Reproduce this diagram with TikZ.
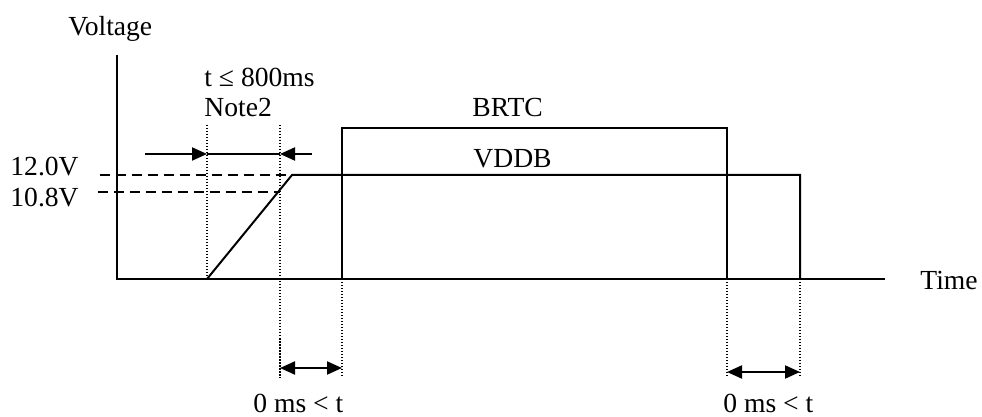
\documentclass[tikz,border=0pt]{standalone}
\usepackage{fontspec}
\setmainfont{Liberation Serif}
\usetikzlibrary{arrows.meta}

\begin{document}
\begin{tikzpicture}[x=0.5pt,y=-0.5pt,
  font=\fontsize{13.8}{16}\selectfont,
  txt/.style = {anchor=base west, inner sep=0pt},
  sig/.style = {line width=1pt},
  guide/.style = {line width=0.75pt, dash pattern=on 0.75pt off 0.75pt},
  level/.style = {line width=0.75pt, dashed, dash pattern=on 5pt off 3pt},
  tip/.style = {line width=1pt, -{Triangle[length=7.5pt,width=6.5pt]}},
  span/.style = {line width=1pt, {Triangle[length=7.5pt,width=6.5pt]}-{Triangle[length=7.5pt,width=6.5pt]}}]
\useasboundingbox (0,0) rectangle (982,417);
% axes
\coordinate (origin) at (117,279);
\coordinate (ytop) at (117,55);
\coordinate (xend) at (885,279);
\draw[sig] (ytop) -- (origin) -- (xend);
\node[txt] (voltage) at (68,36) {Voltage};
\node[txt] (time) at (920,290) {Time};
% levels
\node[txt] (high) at (10,176) {12.0V};
\node[txt] (low) at (10,207) {10.8V};
\coordinate (hstart) at (100,175);
\coordinate (lstart) at (98,192);
\coordinate (rampend) at (292,175);
\coordinate (lcross) at (280,192);
\draw[level] (hstart) -- (rampend);
\draw[level] (lstart) -- (lcross);
% VDDB
\coordinate (rampstart) at (207,279);
\coordinate (vddbend) at (800,175);
\coordinate (vddboff) at (800,279);
\draw[sig] (rampstart) -- (rampend) -- (vddbend) -- (vddboff);
\node[txt] (vddb) at (473,168) {VDDB};
% BRTC
\coordinate (bon) at (342,279);
\coordinate (bonup) at (342,128);
\coordinate (boffup) at (727,128);
\coordinate (boff) at (727,279);
\draw[sig] (bon) -- (bonup) -- (boffup) -- (boff);
\node[txt] (brtc) at (472,117) {BRTC};
% guides
\coordinate (g1top) at (207,125);
\coordinate (g2top) at (280,125);
\coordinate (g2bot) at (280,378);
\coordinate (g3bot) at (342,378);
\coordinate (g4bot) at (727,378);
\coordinate (g5bot) at (800,378);
\draw[guide] (g1top) -- (rampstart);
\draw[guide] (g2top) -- (g2bot);
\draw[guide] (bon) -- (g3bot);
\draw[guide] (boff) -- (g4bot);
\draw[guide] (vddboff) -- (g5bot);
% rise time
\coordinate (rleft) at (145,154);
\coordinate (rin1) at (207,154);
\coordinate (rin2) at (280,154);
\coordinate (rright) at (312,154);
\draw[tip] (rleft) -- (rin1);
\draw[tip] (rright) -- (rin2);
\draw[sig] (rin1) -- (rin2);
\node[txt] (trise) at (204,87) {t ≤ 800ms};
\node[txt] (note) at (204,117) {Note2};
% delays
\coordinate (d1a) at (280,368);
\coordinate (d1b) at (342,368);
\coordinate (d2a) at (727,372);
\coordinate (d2b) at (800,372);
\draw[span] (d1a) -- (d1b);
\draw[span] (d2a) -- (d2b);
\node[txt] (delayon) at (253,413) {0 ms < t};
\node[txt] (delayoff) at (723,413) {0 ms < t};
\end{tikzpicture}
\end{document}
